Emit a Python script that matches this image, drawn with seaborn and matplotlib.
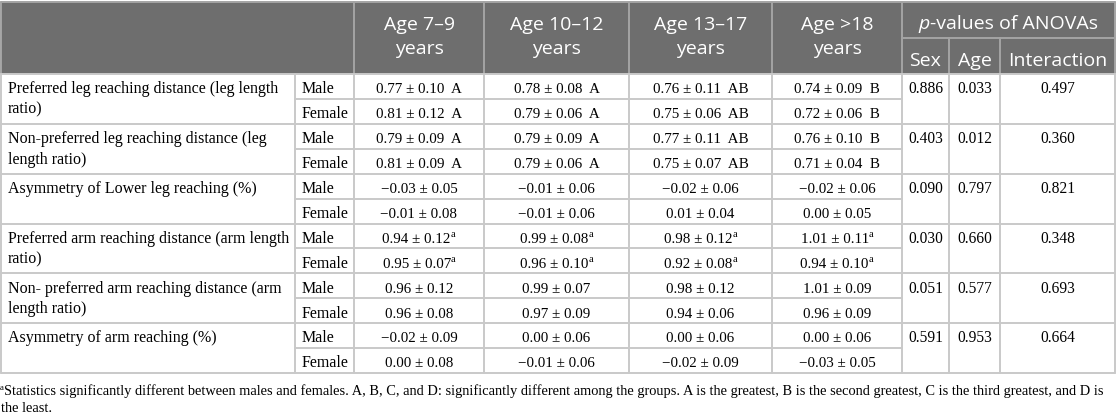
import matplotlib
matplotlib.use("Agg")
import matplotlib.pyplot as plt
import seaborn as sns
from matplotlib.patches import Rectangle

sns.set_theme(style="white")
plt.rcParams["font.family"] = ["Liberation Serif", "DejaVu Serif"]

# ---- table content ----
measure_lines = [
    ["Preferred leg reaching distance (leg length", "ratio)"],
    ["Non-preferred leg reaching distance (leg", "length ratio)"],
    ["Asymmetry of Lower leg reaching (%)"],
    ["Preferred arm reaching distance (arm length", "ratio)"],
    ["Non- preferred arm reaching distance (arm", "length ratio)"],
    ["Asymmetry of arm reaching (%)"],
]
sexes = ["Male", "Female"]
age_groups = ["Age 7\u20139", "Age 10\u201312", "Age 13\u201317", "Age >18"]
anova_cols = ["Sex", "Age", "Interaction"]

male_mean = [[0.77, 0.78, 0.76, 0.74], [0.79, 0.79, 0.77, 0.76], [-0.03, -0.01, -0.02, -0.02],
             [0.94, 0.99, 0.98, 1.01], [0.96, 0.99, 0.98, 1.01], [-0.02, 0.00, 0.00, 0.00]]
male_sd = [[0.10, 0.08, 0.11, 0.09], [0.09, 0.09, 0.11, 0.10], [0.05, 0.06, 0.06, 0.06],
           [0.12, 0.08, 0.12, 0.11], [0.12, 0.07, 0.12, 0.09], [0.09, 0.06, 0.06, 0.06]]
female_mean = [[0.81, 0.79, 0.75, 0.72], [0.81, 0.79, 0.75, 0.71], [-0.01, -0.01, 0.01, 0.00],
               [0.95, 0.96, 0.92, 0.94], [0.96, 0.97, 0.94, 0.96], [0.00, -0.01, -0.02, -0.03]]
female_sd = [[0.12, 0.06, 0.06, 0.06], [0.09, 0.06, 0.07, 0.04], [0.08, 0.06, 0.04, 0.05],
             [0.07, 0.10, 0.08, 0.10], [0.08, 0.09, 0.06, 0.09], [0.08, 0.06, 0.09, 0.05]]
group_letters = [["A", "A", "AB", "B"], ["A", "A", "AB", "B"], None, None, None, None]
sex_diff = [False, False, False, True, False, False]

p_sex = ["0.886", "0.403", "0.090", "0.030", "0.051", "0.591"]
p_age = ["0.033", "0.012", "0.797", "0.660", "0.577", "0.953"]
p_inter = ["0.497", "0.360", "0.821", "0.348", "0.693", "0.664"]

footnote = ["Statistics significantly different between males and females. A, B, C, and D: significantly "
            "different among the groups. A is the greatest, B is the second greatest, C is the third greatest, and D is",
            "the least."]

# ---- layout (pixels) ----
col_x = [1, 295, 354, 484, 629, 772, 902, 949, 1000, 1115]
head_top, head_mid, head_bot = 2, 38, 74
body_bot = 373
rh = (body_bot - head_bot) / 12
head_gray = "#6e6e6e"
head_line = "#a4a4a4"
body_line = "#c9c9c9"
sans = "Open Sans"
label_fs = 11.5
num_fs = 10.8
head_fs = 14

fig = plt.figure(figsize=(11.16, 4.19), dpi=100)
ax = fig.add_axes([0, 0, 1, 1])
ax.set_xlim(0, 1116)
ax.set_ylim(419, 0)
ax.axis("off")
rend = fig.canvas.get_renderer()


def text_width(s, **kw):
    t = ax.text(0, 0, s, **kw)
    w = t.get_window_extent(rend).width
    t.remove()
    return w


def put_pieces(x, y, pieces, ha="center"):
    widths = [text_width(s, **kw) for s, kw, dy in pieces]
    start = x - sum(widths) / 2 if ha == "center" else x
    for (s, kw, dy), w in zip(pieces, widths):
        ax.text(start, y + dy, s, ha="left", va="baseline", **kw)
        start += w


def fmt(v):
    return f"{v:.2f}".replace("-", "\u2212")


# header background and lines
ax.add_patch(Rectangle((col_x[0], head_top), col_x[-1] - col_x[0], head_bot - head_top,
                       facecolor=head_gray, edgecolor="none"))
for x in col_x[2:7]:
    ax.plot([x, x], [head_top, head_bot], color=head_line, lw=1.4)
for x in col_x[7:9]:
    ax.plot([x, x], [head_mid, head_bot], color=head_line, lw=1.4)
ax.plot([col_x[6], col_x[-1]], [head_mid, head_mid], color=head_line, lw=1.4)
ax.plot([col_x[0], col_x[-1]], [head_top, head_top], color=head_line, lw=1.4)
ax.plot([col_x[0], col_x[0]], [head_top, head_bot], color=head_line, lw=1.4)
ax.plot([col_x[-1], col_x[-1]], [head_top, head_bot], color=head_line, lw=1.4)

hkw = dict(family=sans, fontsize=head_fs, color="white")
for i, lab in enumerate(age_groups):
    cx = (col_x[i + 2] + col_x[i + 3]) / 2
    ax.text(cx, 30, lab, ha="center", va="baseline", **hkw)
    ax.text(cx, 54, "years", ha="center", va="baseline", **hkw)
put_pieces((col_x[6] + col_x[-1]) / 2, 29,
           [("p", dict(hkw, style="italic"), 0), ("-values of ANOVAs", hkw, 0)])
for i, lab in enumerate(anova_cols):
    cx = (col_x[i + 6] + col_x[i + 7]) / 2
    ax.text(cx, 66.5, lab, ha="center", va="baseline", **hkw)

# body lines
for r in range(13):
    y = head_bot + r * rh
    if r % 2 == 0:
        ax.plot([col_x[0], col_x[-1]], [y, y], color=body_line, lw=1.4)
    else:
        ax.plot([col_x[1], col_x[6]], [y, y], color=body_line, lw=1.4)
for x in col_x:
    ax.plot([x, x], [head_bot, body_bot], color=body_line, lw=1.4)

# body text
lkw = dict(fontsize=label_fs, color="black")
bkw = dict(fontsize=num_fs, color="black")
pkw = dict(fontsize=11.2, color="black")
supkw = dict(fontsize=7.5, color="black")
for g in range(6):
    top = head_bot + 2 * g * rh
    for k, ln in enumerate(measure_lines[g]):
        ax.text(col_x[0] + 7, top + 19.3 + k * 20.5, ln, ha="left", va="baseline", **lkw)
    for s, (means, sds) in enumerate([(male_mean, male_sd), (female_mean, female_sd)]):
        yb = top + s * rh + 19.3
        ax.text(col_x[1] + 7, yb, sexes[s], ha="left", va="baseline", **lkw)
        for a in range(4):
            cx = (col_x[a + 2] + col_x[a + 3]) / 2
            main = f"{fmt(means[g][a])} \u00b1 {fmt(sds[g][a])}"
            if group_letters[g] is not None:
                main += "  " + group_letters[g][a]
            pieces = [(main, bkw, 0)]
            if sex_diff[g]:
                pieces.append(("a", supkw, -5.5))
            put_pieces(cx, yb, pieces)
    yb = top + 19.3
    for c, vals in enumerate([p_sex, p_age, p_inter]):
        cx = (col_x[c + 6] + col_x[c + 7]) / 2
        ax.text(cx, yb, vals[g], ha="center", va="baseline", **pkw)

# footnote, sized to span the table width
fkw = dict(fontsize=9.5, color="black")
w = text_width(footnote[0], **fkw)
fkw["fontsize"] = 9.5 * 1107 / w
put_pieces(0, 395, [("a", dict(fkw, fontsize=fkw["fontsize"] * 0.6), -5), (footnote[0], fkw, 0)], ha="left")
ax.text(1, 412, footnote[1], ha="left", va="baseline", **fkw)

fig.savefig("out.png", dpi=100, facecolor="white")
